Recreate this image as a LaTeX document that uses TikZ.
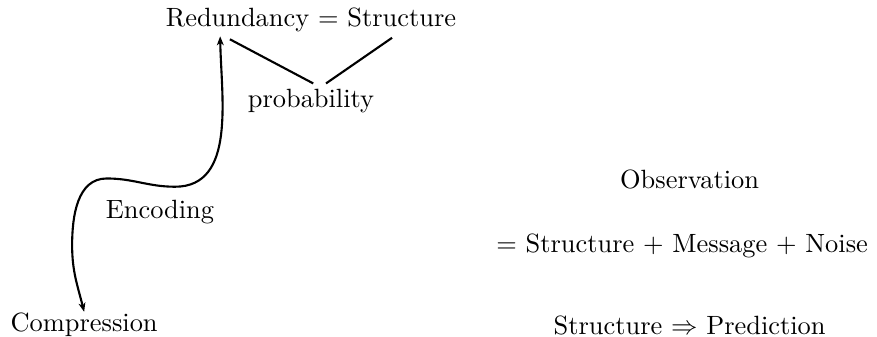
\documentclass[tikz,border=0pt]{standalone}
\usepackage{amsmath,amssymb}
\usepackage{tikz}
\usetikzlibrary{positioning,arrows.meta,calc}
\tikzset{
  lbl/.style={inner sep=2pt},
  link/.style={line width=0.8pt},
  flow/.style={line width=0.8pt,
    {Stealth[length=3.4pt,width=2.6pt,inset=1pt]}-{Stealth[length=3.4pt,width=2.6pt,inset=1pt]}},
}

\begin{document}
\begin{tikzpicture}[scale=1.0]
  \useasboundingbox (0,0) rectangle (11.675,4.486);
  \node[lbl] (red)  at (4.14,4.22) {Redundancy $=$ Structure};
  \node[lbl] (prob) at (4.14,3.14) {probability};
  \node[lbl] (enc)  at (2.13,1.66) {Encoding};
  \node[lbl] (comp) at (1.12,0.16) {Compression};
  \node[lbl] (obs)  at (9.18,2.09) {Observation};
  \node[lbl] (eq)   at (9.08,1.21) {$=$ Structure $+$ Message $+$ Noise};
  \node[lbl] (pred) at (9.18,0.15) {Structure $\Rightarrow$ Prediction};
  % probability links
  \draw[link] ([xshift=0.93cm,yshift=-0.02cm]red.south west) -- ([xshift=0.03cm]prob.north);
  \draw[link] ([xshift=-0.93cm,yshift=0cm]red.south east) -- ([xshift=0.2cm]prob.north);
  % encoding curve
  \draw[flow] ([xshift=0.8cm,yshift=0.02cm]red.south west)
    to[out=-89,in=0] (2.33,2.00)
    to[out=180,in=0] (1.42,2.11)
    to[out=180,in=90] (0.96,1.22)
    to[out=-90,in=104] ([yshift=-0.06cm]comp.north);
\end{tikzpicture}
\end{document}
